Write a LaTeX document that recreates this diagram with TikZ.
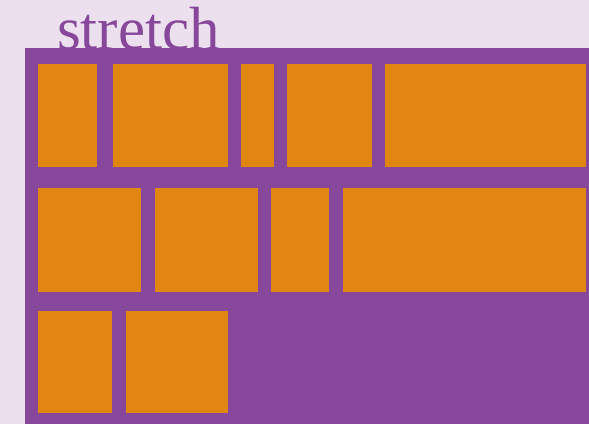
\documentclass[tikz,border=0pt]{standalone}
\usepackage{fontspec}
\setmainfont{Liberation Serif}
\definecolor{bgc}{HTML}{ECE0EF}
\definecolor{purp}{HTML}{87479B}
\definecolor{oran}{HTML}{E28612}
\begin{document}
\begin{tikzpicture}[x=1pt,y=-1pt,
  item/.style={fill=oran, draw=none, inner sep=0pt, outer sep=0pt, anchor=north west}]
\fill[bgc] (0,0) rectangle (589,424);
\useasboundingbox (0,0) rectangle (589,424);
\node[anchor=base west, inner sep=0pt, text=purp, font=\fontsize{61}{61}\selectfont] (title) at (57,49.5) {stretch};
\node[fill=purp, inner sep=0pt, outer sep=0pt, anchor=north west, minimum width=564pt, minimum height=376pt] (container) at (25,48) {};
% row 1
\foreach \n/\a/\b in {a/38/97, b/113/228, c/241/274, d/287/372, e/385/586}
  \node[item, minimum width=\b-\a, minimum height=103] (r1\n) at (\a,64) {};
% row 2
\foreach \n/\a/\b in {a/38/141, b/155/258, c/271/329, d/343/586}
  \node[item, minimum width=\b-\a, minimum height=104] (r2\n) at (\a,188) {};
% row 3
\foreach \n/\a/\b in {a/38/112, b/126/228}
  \node[item, minimum width=\b-\a, minimum height=102] (r3\n) at (\a,311) {};
\end{tikzpicture}
\end{document}
